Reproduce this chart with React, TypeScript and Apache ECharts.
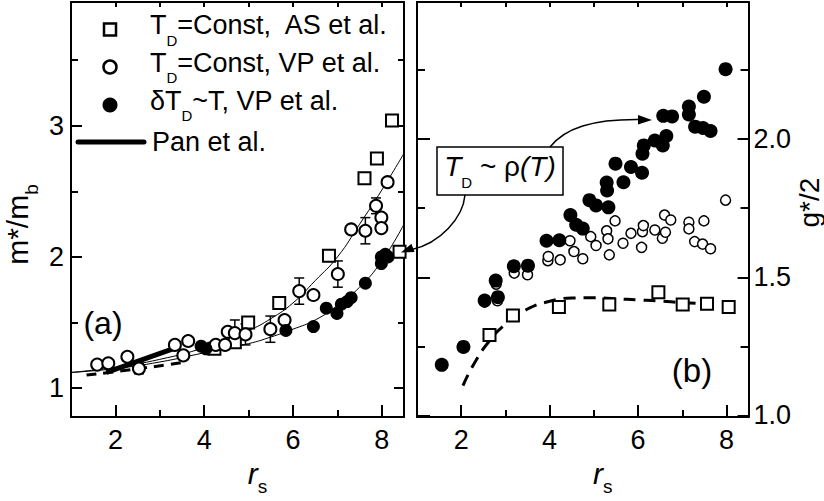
import React, { useEffect, useRef } from "react";
import * as echarts from "echarts";

const FONT = "'Liberation Sans', Arial, Helvetica, sans-serif";

// ---------- Panel (a): m*/m_b vs r_s ----------
const aSquares: number[][] = [
  [4.23, 1.30], [4.69, 1.35], [4.99, 1.50], [5.69, 1.65], [6.81, 2.01],
  [7.61, 2.60], [7.89, 2.75], [8.23, 3.04], [8.40, 2.04],
];
const aOpen: number[][] = [
  [1.59, 1.18], [1.84, 1.19], [2.27, 1.24], [2.53, 1.15], [3.34, 1.33],
  [3.64, 1.36], [3.53, 1.25], [4.26, 1.33], [4.47, 1.33], [4.53, 1.43],
  [4.69, 1.42], [4.93, 1.41], [5.49, 1.45], [5.81, 1.52], [6.14, 1.74],
  [6.46, 1.71], [7.01, 1.87], [7.31, 2.21], [7.63, 2.20], [7.87, 2.39],
  [7.99, 2.30], [7.99, 2.22], [8.13, 2.57],
];
const aFilled: number[][] = [
  [3.93, 1.32], [4.04, 1.30], [5.84, 1.44], [6.46, 1.47], [6.75, 1.61],
  [6.99, 1.57], [7.09, 1.64], [7.22, 1.66], [7.31, 1.69], [7.63, 1.80],
  [7.99, 1.95], [7.99, 2.00], [8.14, 2.00], [8.08, 2.02],
];
// error bars on open circles: x, y, half-width
const aErrX = [2.53, 4.69, 4.93, 5.49, 6.14, 7.01, 7.63, 7.87];
const aErrY = [1.15, 1.42, 1.41, 1.45, 1.74, 1.87, 2.20, 2.39];
const aErr = [0.04, 0.10, 0.08, 0.10, 0.10, 0.10, 0.10, 0.06];
// thin fit curves
const aFitUpper: number[][] = [
  [1, 1.12], [2, 1.16], [3, 1.22], [4, 1.31], [5, 1.44], [5.5, 1.53],
  [6, 1.65], [6.5, 1.82], [7, 2.0], [7.5, 2.25], [8, 2.51], [8.5, 2.79],
];
const aFitLower: number[][] = [
  [1, 1.12], [2, 1.15], [3, 1.2], [4, 1.27], [5, 1.34], [5.5, 1.39],
  [6, 1.45], [6.5, 1.52], [7, 1.63], [7.5, 1.77], [8, 1.97], [8.5, 2.25],
];
const aDashed: number[][] = [[1.35, 1.10], [2.2, 1.135], [3.2, 1.18], [3.6, 1.20]];
const aPan: number[][] = [[1.8, 1.12], [3.42, 1.315]];

// ---------- Panel (b): g*/2 vs r_s ----------
const bSquares: number[][] = [
  [2.64, 1.291], [3.17, 1.362], [4.21, 1.392], [5.35, 1.401],
  [6.46, 1.446], [7.01, 1.401], [7.56, 1.404], [8.05, 1.392],
];
const bOpen: number[][] = [
  [2.53, 1.41], [2.82, 1.415], [2.79, 1.475], [3.2, 1.515], [3.5, 1.509],
  [3.96, 1.560], [3.97, 1.575], [4.24, 1.563], [4.46, 1.632], [4.55, 1.593],
  [4.75, 1.567], [4.93, 1.647], [5.05, 1.615], [5.29, 1.668], [5.32, 1.639],
  [5.35, 1.581], [5.48, 1.704], [5.66, 1.623], [5.84, 1.659], [6.10, 1.665],
  [6.12, 1.687], [6.08, 1.608], [6.38, 1.671], [6.55, 1.641], [6.62, 1.663],
  [6.60, 1.725], [6.74, 1.707], [7.15, 1.699], [7.15, 1.675], [7.49, 1.704],
  [7.28, 1.629], [7.46, 1.620], [7.64, 1.603], [7.98, 1.779],
];
const bFilled: number[][] = [
  [1.56, 1.183], [2.05, 1.248], [2.53, 1.416], [2.83, 1.428], [2.78, 1.488],
  [3.19, 1.540], [3.51, 1.542], [3.93, 1.632], [4.22, 1.634], [4.47, 1.725],
  [4.60, 1.690], [4.75, 1.676], [4.90, 1.779], [5.05, 1.760], [5.33, 1.753],
  [5.29, 1.843], [5.30, 1.814], [5.67, 1.844], [5.49, 1.911], [5.84, 1.899],
  [6.09, 1.878], [6.10, 1.947], [6.13, 1.977], [6.38, 1.995], [6.56, 1.977],
  [6.64, 2.011], [6.57, 2.084], [6.77, 2.082], [7.15, 2.118], [7.15, 2.089],
  [7.49, 2.153], [7.29, 2.045], [7.47, 2.040], [7.64, 2.029], [7.98, 2.253],
];
const bDashed: number[][] = [
  [2.04, 1.108], [2.3, 1.19], [2.64, 1.27], [3.0, 1.33], [3.5, 1.385],
  [4.0, 1.413], [4.5, 1.425], [5.0, 1.426], [5.5, 1.422], [6.0, 1.418],
  [6.5, 1.414], [7.0, 1.408], [7.7, 1.403],
];

// ---------- ticks ----------
const xMajor = [2, 4, 6, 8];
const xMinor = [3, 5, 7];
const xTop = [2, 3, 4, 5, 6, 7, 8];
const aYMajor = [1, 2, 3];
const aYMinor = [1.5, 2.5, 3.5];
const bYMajor = [1.0, 1.5, 2.0];
const bYMinor = [1.25, 1.75, 2.25];

const BLACK = "#000";

function axis(extra: any) {
  return {
    type: "value",
    splitLine: { show: false },
    axisLine: { show: false, onZero: false, lineStyle: { color: BLACK, width: 2 } },
    axisTick: { show: false },
    axisLabel: { show: false },
    ...extra,
  };
}
function ticks(values: number[], length: number) {
  return { show: true, inside: true, length, customValues: values, lineStyle: { color: BLACK, width: 2 } };
}
const line = { show: true, onZero: false, lineStyle: { color: BLACK, width: 2 } };
const labelStyle = { fontSize: 27, color: BLACK, fontFamily: FONT };

const rsName = {
  name: "{r|r}{s|s}",
  nameLocation: "middle",
  nameGap: 34,
  nameTextStyle: {
    padding: [0, 0, 0, 40],
    rich: {
      r: { fontSize: 30, fontStyle: "italic", fontFamily: FONT, color: BLACK, verticalAlign: "bottom", padding: [0, 0, 8, 0] },
      s: { fontSize: 19, fontFamily: FONT, color: BLACK, verticalAlign: "bottom" },
    },
  },
};

export default function App() {
  const ref = useRef<HTMLDivElement>(null);
  useEffect(() => {
    document.body.style.margin = "0";
    if (!ref.current) return;
    const chart = echarts.init(ref.current, undefined, { renderer: "svg" });

    const open = (bw: number) => ({ color: "#fff", borderColor: BLACK, borderWidth: bw, opacity: 1 });
    const filled = { color: BLACK, opacity: 1 };
    const legendRich = {
      t: { fontSize: 27, fontFamily: FONT, fill: BLACK, verticalAlign: "bottom", padding: [0, 0, 9, 0] },
      d: { fontSize: 15, fontFamily: FONT, fill: BLACK, verticalAlign: "bottom" },
    };
    const legX = 150;
    const legMarkX = 110;
    const rows = [29.5, 67, 105, 142];

    const option: any = {
      animation: false,
      grid: [
        { left: 71, top: 2, width: 333, height: 418 },
        { left: 417, top: 2, width: 333, height: 418 },
      ],
      xAxis: [
        axis({ gridIndex: 0, min: 1, max: 8.5, position: "bottom", axisLine: line, axisTick: ticks(xMajor, 12),
          axisLabel: { show: true, customValues: xMajor, margin: 9, ...labelStyle }, ...rsName }),
        axis({ gridIndex: 0, min: 1, max: 8.5, position: "bottom", axisTick: ticks(xMinor, 7) }),
        axis({ gridIndex: 0, min: 1, max: 8.5, position: "top", axisLine: line, axisTick: ticks(xTop, 5) }),
        axis({ gridIndex: 1, min: 1, max: 8.5, position: "bottom", axisLine: line, axisTick: ticks(xMajor, 12),
          axisLabel: { show: true, customValues: xMajor, margin: 9, ...labelStyle }, ...rsName }),
        axis({ gridIndex: 1, min: 1, max: 8.5, position: "bottom", axisTick: ticks(xMinor, 7) }),
        axis({ gridIndex: 1, min: 1, max: 8.5, position: "top", axisLine: line, axisTick: ticks(xTop, 5) }),
      ],
      yAxis: [
        axis({ gridIndex: 0, min: 0.78, max: 3.943, position: "left", axisLine: line, axisTick: ticks(aYMajor, 11),
          axisLabel: { show: true, customValues: aYMajor, margin: 7, ...labelStyle },
          name: "{m|m*/m}{b|b}", nameLocation: "middle", nameRotate: 90, nameGap: 30,
          nameTextStyle: { padding: [0, 30, 0, 0], rich: {
            m: { fontSize: 30, fontFamily: FONT, color: BLACK, verticalAlign: "bottom", padding: [0, 0, 9, 0] },
            b: { fontSize: 19, fontFamily: FONT, color: BLACK, verticalAlign: "bottom" },
          } } }),
        axis({ gridIndex: 0, min: 0.78, max: 3.943, position: "left", axisTick: ticks(aYMinor, 7) }),
        axis({ gridIndex: 0, min: 0.78, max: 3.943, position: "right", axisLine: line, axisTick: ticks(aYMajor, 10) }),
        axis({ gridIndex: 0, min: 0.78, max: 3.943, position: "right", axisTick: ticks(aYMinor, 6) }),
        axis({ gridIndex: 1, min: 0.994, max: 2.496, position: "right", axisLine: line, axisTick: ticks(bYMajor, 11),
          axisLabel: { show: true, customValues: bYMajor, margin: 5, formatter: (v: number) => v.toFixed(1), ...labelStyle },
          name: "g*/2", nameLocation: "middle", nameRotate: 90, nameGap: 46,
          nameTextStyle: { fontSize: 28, fontFamily: FONT, color: BLACK, padding: [0, 0, 0, 14] } }),
        axis({ gridIndex: 1, min: 0.994, max: 2.496, position: "right", axisTick: ticks(bYMinor, 8) }),
        axis({ gridIndex: 1, min: 0.994, max: 2.496, position: "left", axisLine: line, axisTick: ticks(bYMajor, 13) }),
        axis({ gridIndex: 1, min: 0.994, max: 2.496, position: "left", axisTick: ticks(bYMinor, 8) }),
      ],
      series: [
        { name: "fit upper", type: "line", xAxisIndex: 0, yAxisIndex: 0, data: aFitUpper, smooth: true, symbol: "none",
          lineStyle: { color: BLACK, width: 1 }, z: 1 },
        { name: "fit lower", type: "line", xAxisIndex: 0, yAxisIndex: 0, data: aFitLower, smooth: true, symbol: "none",
          lineStyle: { color: BLACK, width: 1 }, z: 1 },
        { name: "theory a", type: "line", xAxisIndex: 0, yAxisIndex: 0, data: aDashed, smooth: true, symbol: "none",
          lineStyle: { color: BLACK, width: 3, type: [10, 7] }, z: 1 },
        { name: "Pan et al.", type: "line", xAxisIndex: 0, yAxisIndex: 0, data: aPan, symbol: "none",
          lineStyle: { color: BLACK, width: 5 }, z: 2 },
        {
          name: "error bars", type: "custom", xAxisIndex: 0, yAxisIndex: 0, z: 2,
          data: aErrX.map((x, i) => [x, aErrY[i], aErr[i]]),
          renderItem: (_p: any, api: any) => {
            const x = api.value(0), y = api.value(1), e = api.value(2);
            const t = api.coord([x, y + e]);
            const b = api.coord([x, y - e]);
            const st = { stroke: BLACK, lineWidth: 1.5 };
            return {
              type: "group",
              children: [
                { type: "line", shape: { x1: t[0], y1: t[1], x2: b[0], y2: b[1] }, style: st },
                { type: "line", shape: { x1: t[0] - 5, y1: t[1], x2: t[0] + 5, y2: t[1] }, style: st },
                { type: "line", shape: { x1: b[0] - 5, y1: b[1], x2: b[0] + 5, y2: b[1] }, style: st },
              ],
            };
          },
        },
        { name: "T_D=Const, AS et al.", type: "scatter", xAxisIndex: 0, yAxisIndex: 0, data: aSquares, symbol: "rect",
          symbolSize: 12, itemStyle: open(2), z: 3 },
        { name: "T_D=Const, VP et al.", type: "scatter", xAxisIndex: 0, yAxisIndex: 0, data: aOpen, symbol: "circle",
          symbolSize: 12, itemStyle: open(2), z: 4 },
        { name: "dT_D~T, VP et al.", type: "scatter", xAxisIndex: 0, yAxisIndex: 0, data: aFilled, symbol: "circle",
          symbolSize: 13, itemStyle: filled, z: 5 },

        { name: "theory b", type: "line", xAxisIndex: 3, yAxisIndex: 4, data: bDashed, smooth: true, symbol: "none",
          lineStyle: { color: BLACK, width: 3, type: [12, 8] }, z: 1 },
        { name: "T_D=Const, AS et al. (b)", type: "scatter", xAxisIndex: 3, yAxisIndex: 4, data: bSquares, symbol: "rect",
          symbolSize: 12, itemStyle: open(2), z: 3 },
        { name: "T_D=Const, VP et al. (b)", type: "scatter", xAxisIndex: 3, yAxisIndex: 4, data: bOpen, symbol: "circle",
          symbolSize: 10, itemStyle: open(1.5), z: 4 },
        { name: "dT_D~T, VP et al. (b)", type: "scatter", xAxisIndex: 3, yAxisIndex: 4, data: bFilled, symbol: "circle",
          symbolSize: 14, itemStyle: filled, z: 5 },
      ],
      graphic: [
        // legend markers
        { type: "rect", shape: { x: legMarkX - 6, y: rows[0] - 6, width: 12, height: 12 }, style: { fill: "#fff", stroke: BLACK, lineWidth: 2.5 }, z: 10 },
        { type: "circle", shape: { cx: legMarkX, cy: rows[1], r: 6.5 }, style: { fill: "#fff", stroke: BLACK, lineWidth: 2.5 }, z: 10 },
        { type: "circle", shape: { cx: legMarkX, cy: rows[2], r: 7.5 }, style: { fill: BLACK }, z: 10 },
        { type: "line", shape: { x1: 78, y1: rows[3], x2: 144, y2: rows[3] }, style: { stroke: BLACK, lineWidth: 5, lineCap: "round" }, z: 10 },
        // legend texts
        { type: "text", x: legX, y: rows[0], z: 10, style: { text: "{t|T}{d|D}{t|=Const,  AS et al.}", rich: legendRich, verticalAlign: "middle", fill: BLACK } },
        { type: "text", x: legX, y: rows[1], z: 10, style: { text: "{t|T}{d|D}{t|=Const, VP et al.}", rich: legendRich, verticalAlign: "middle", fill: BLACK } },
        { type: "text", x: legX, y: rows[2], z: 10, style: { text: "{t|δT}{d|D}{t|~T, VP et al.}", rich: legendRich, verticalAlign: "middle", fill: BLACK } },
        { type: "text", x: legX + 2, y: rows[3], z: 10, style: { text: "Pan et al.", fontSize: 27, fontFamily: FONT, verticalAlign: "middle", fill: BLACK } },
        // panel labels
        { type: "text", x: 103, y: 323, z: 10, style: { text: "(a)", fontSize: 32, fontFamily: FONT, align: "center", verticalAlign: "middle", fill: BLACK } },
        { type: "text", x: 692, y: 370, z: 10, style: { text: "(b)", fontSize: 33, fontFamily: FONT, align: "center", verticalAlign: "middle", fill: BLACK } },
        // annotation arrows
        { type: "bezierCurve", z: 9, shape: { x1: 550, y1: 147, cpx1: 565, cpy1: 128, cpx2: 592, cpy2: 119, x2: 640, y2: 119.5 }, style: { stroke: BLACK, lineWidth: 1.5, fill: null } },
        { type: "polygon", z: 9, shape: { points: [[652, 120], [638, 115], [638, 124.5]] }, style: { fill: BLACK } },
        { type: "bezierCurve", z: 9, shape: { x1: 465, y1: 195, cpx1: 463, cpy1: 218, cpx2: 440, cpy2: 243, x2: 412, y2: 249.5 }, style: { stroke: BLACK, lineWidth: 1.5, fill: null } },
        { type: "polygon", z: 9, shape: { points: [[401, 252.5], [414.6, 252], [411.4, 243.8]] }, style: { fill: BLACK } },
        // annotation box
        { type: "rect", z: 10, shape: { x: 437, y: 147, width: 126, height: 48 }, style: { fill: "#fff", stroke: BLACK, lineWidth: 1.5 } },
        { type: "text", z: 11, x: 500, y: 171, style: {
          text: "{i|T}{d|D}{n| ~ ρ}{i|(T)}", align: "center", verticalAlign: "middle", fill: BLACK,
          rich: {
            i: { fontSize: 28, fontFamily: FONT, fontStyle: "italic", fill: BLACK, verticalAlign: "bottom", padding: [0, 0, 9, 0] },
            n: { fontSize: 28, fontFamily: FONT, fill: BLACK, verticalAlign: "bottom", padding: [0, 0, 9, 0] },
            d: { fontSize: 15, fontFamily: FONT, fill: BLACK, verticalAlign: "bottom" },
          } } },
      ],
    };
    chart.setOption(option);
    return () => chart.dispose();
  }, []);
  return <div ref={ref} style={{ width: 824, height: 501 }} />;
}
